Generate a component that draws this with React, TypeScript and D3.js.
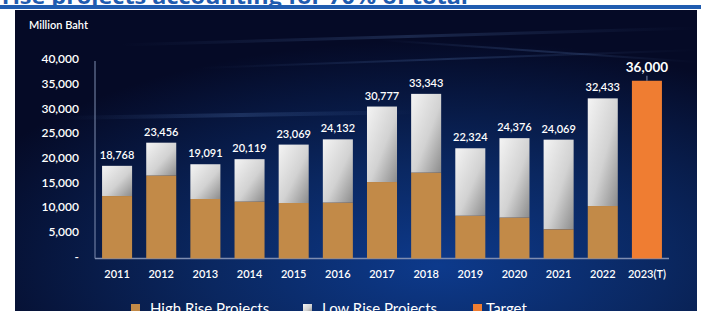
import { useRef, useEffect } from "react";
import * as d3 from "d3";

const years = ["2011", "2012", "2013", "2014", "2015", "2016", "2017", "2018", "2019", "2020", "2021", "2022", "2023(T)"];
const totals = [18768, 23456, 19091, 20119, 23069, 24132, 30777, 33343, 22324, 24376, 24069, 32433, 36000];
const highRise = [12650, 16770, 12050, 11500, 11240, 11300, 15490, 17375, 8650, 8270, 5900, 10630, 0];
const targetValues = [0, 0, 0, 0, 0, 0, 0, 0, 0, 0, 0, 0, 36000];
const yTicks = [0, 5000, 10000, 15000, 20000, 25000, 30000, 35000, 40000];
const legendItems = ["High Rise Projects", "Low Rise Projects", "Target"];

export default function App() {
  const svgRef = useRef<SVGSVGElement>(null);

  useEffect(() => {
    const w = 701;
    const h = 311;
    const svg = d3.select(svgRef.current).attr("width", w).attr("height", h);
    svg.selectAll("*").remove();

    const font = "Lato, 'Open Sans', sans-serif";

    // Gradients
    const defs = svg.append("defs");
    const bg = defs.append("radialGradient").attr("id", "bg")
      .attr("cx", "62%").attr("cy", "85%").attr("r", "75%");
    bg.append("stop").attr("offset", "0%").attr("stop-color", "#0d3a8c");
    bg.append("stop").attr("offset", "45%").attr("stop-color", "#0a2760");
    bg.append("stop").attr("offset", "100%").attr("stop-color", "#050a26");

    const low = defs.append("linearGradient").attr("id", "low")
      .attr("x1", "0").attr("y1", "0").attr("x2", "1").attr("y2", "1");
    low.append("stop").attr("offset", "0%").attr("stop-color", "#f4f4f4");
    low.append("stop").attr("offset", "55%").attr("stop-color", "#d2d2d2");
    low.append("stop").attr("offset", "100%").attr("stop-color", "#8c8c8c");

    const streak = defs.append("linearGradient").attr("id", "streak")
      .attr("x1", "0").attr("y1", "0").attr("x2", "1").attr("y2", "0");
    streak.append("stop").attr("offset", "0%").attr("stop-color", "#6f9be0").attr("stop-opacity", 0);
    streak.append("stop").attr("offset", "50%").attr("stop-color", "#6f9be0").attr("stop-opacity", 0.2);
    streak.append("stop").attr("offset", "100%").attr("stop-color", "#6f9be0").attr("stop-opacity", 0);

    // Page header
    svg.append("rect").attr("width", w).attr("height", h).attr("fill", "#ffffff");
    svg.append("text").attr("x", 2).attr("y", 4)
      .attr("textLength", 466).attr("lengthAdjust", "spacingAndGlyphs")
      .style("font-family", "'Open Sans', sans-serif").style("font-weight", 700).style("font-size", "21px")
      .attr("fill", "#1f5cb0")
      .text("rise projects accounting for 70% of total");
    svg.append("rect").attr("x", 0).attr("y", 5).attr("width", w).attr("height", 4).attr("fill", "#1f5cb0");

    // Panel
    svg.append("rect").attr("x", 15).attr("y", 10).attr("width", 682).attr("height", h - 10).attr("fill", "url(#bg)");
    const streaks = [
      [120, 45, 697, 28, 3],
      [200, 68, 697, 50, 2],
      [60, 118, 420, 112, 4],
      [380, 40, 697, 62, 2],
    ];
    streaks.forEach(([x1, y1, x2, y2, sw]) => {
      svg.append("line").attr("x1", x1).attr("y1", y1).attr("x2", x2).attr("y2", y2)
        .attr("stroke", "url(#streak)").attr("stroke-width", sw);
    });

    const x = d3.scaleBand().domain(years).range([95, 669]).paddingInner(0.32).paddingOuter(0.16);
    const y = d3.scaleLinear().domain([0, 40000]).range([258.5, 61]);

    // Axes lines
    svg.append("line").attr("x1", 95).attr("x2", 95).attr("y1", 61).attr("y2", 258.5)
      .attr("stroke", "#7f8db0").attr("stroke-width", 1);
    svg.append("line").attr("x1", 95).attr("x2", 669).attr("y1", 258.5).attr("y2", 258.5)
      .attr("stroke", "#7f8db0").attr("stroke-width", 1.5);

    // Y tick labels
    svg.append("g").selectAll("text").data(yTicks).join("text")
      .attr("x", 79).attr("y", (d) => y(d) - 2).attr("dy", "0.35em")
      .attr("text-anchor", "end")
      .style("font-family", font).style("font-size", "12px").style("font-weight", 600)
      .attr("fill", "#ffffff")
      .text((d) => (d === 0 ? "-" : d3.format(",")(d)));

    svg.append("text").attr("x", 29).attr("y", 25).attr("dy", "0.35em")
      .style("font-family", font).style("font-size", "11px").style("font-weight", 600)
      .attr("fill", "#ffffff").text("Million Baht");

    const idx = d3.range(years.length);
    const bw = x.bandwidth();

    // Low rise (total), high rise, target
    svg.append("g").selectAll("rect").data(idx.filter((i) => highRise[i] > 0)).join("rect")
      .attr("x", (i) => x(years[i])!).attr("width", bw)
      .attr("y", (i) => y(totals[i])).attr("height", (i) => y(highRise[i]) - y(totals[i]))
      .attr("fill", "url(#low)");
    svg.append("g").selectAll("rect").data(idx.filter((i) => highRise[i] > 0)).join("rect")
      .attr("x", (i) => x(years[i])!).attr("width", bw)
      .attr("y", (i) => y(highRise[i])).attr("height", (i) => y(0) - y(highRise[i]))
      .attr("fill", "#c28a48");
    svg.append("g").selectAll("rect").data(idx.filter((i) => targetValues[i] > 0)).join("rect")
      .attr("x", (i) => x(years[i])!).attr("width", bw)
      .attr("y", (i) => y(targetValues[i])).attr("height", (i) => y(0) - y(targetValues[i]))
      .attr("fill", "#ef7d32");

    // Value labels
    svg.append("g").selectAll("text").data(idx).join("text")
      .attr("x", (i) => x(years[i])! + bw / 2)
      .attr("y", (i) => y(totals[i]) - (targetValues[i] > 0 ? 9 : 7))
      .attr("text-anchor", "middle")
      .style("font-family", font)
      .style("font-size", (i) => (targetValues[i] > 0 ? "13.5px" : "11px"))
      .style("font-weight", (i) => (targetValues[i] > 0 ? 700 : 600))
      .attr("fill", "#ffffff")
      .text((i) => d3.format(",")(totals[i]));
    idx.filter((i) => targetValues[i] > 0).forEach((i) => {
      const cx = x(years[i])! + bw / 2;
      svg.append("line").attr("x1", cx).attr("x2", cx)
        .attr("y1", y(targetValues[i]) - 5).attr("y2", y(targetValues[i]))
        .attr("stroke", "#9aa6c4").attr("stroke-width", 0.8);
    });

    // X labels
    svg.append("g").selectAll("text").data(years).join("text")
      .attr("x", (d) => x(d)! + bw / 2).attr("y", 274).attr("dy", "0.35em")
      .attr("text-anchor", "middle")
      .style("font-family", font).style("font-size", "11px").style("font-weight", 600)
      .attr("fill", "#ffffff").text((d) => d);

    // Legend
    const legendX = [131, 303, 473];
    const legendFill = ["#c28a48", "url(#low)", "#ef7d32"];
    const leg = svg.append("g").selectAll("g").data(legendItems).join("g")
      .attr("transform", (_, i) => `translate(${legendX[i]},304)`);
    leg.append("rect").attr("width", 9).attr("height", 9).attr("fill", (_, i) => legendFill[i]);
    leg.append("text").attr("x", (_, i) => (i === 2 ? 13 : 19)).attr("y", 9.5)
      .style("font-family", font).style("font-size", "15px")
      .attr("fill", "#ffffff").text((d) => d);
  }, []);

  return <svg ref={svgRef} style={{ position: "absolute", left: 0, top: 0, display: "block" }}></svg>;
}
